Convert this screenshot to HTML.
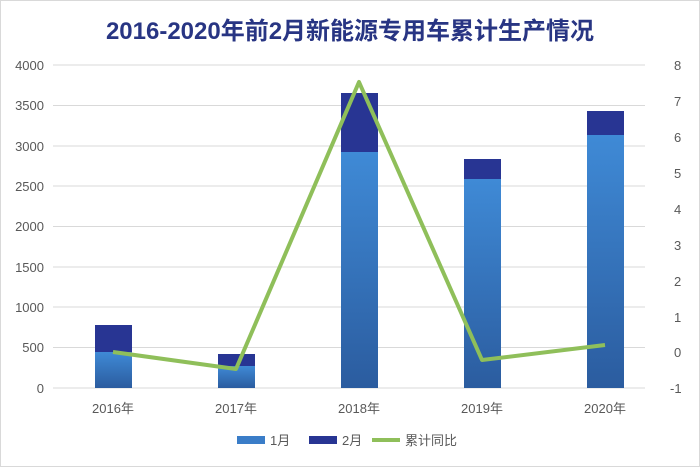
<!DOCTYPE html>
<html><head><meta charset="utf-8"><style>
body{margin:0;background:#fff}
svg{display:block;font-family:"Liberation Sans","Noto Sans CJK SC",sans-serif}
</style></head><body>
<svg width="700" height="467" viewBox="0 0 700 467">
<defs>
<linearGradient id="g1" x1="0" y1="0" x2="0" y2="1"><stop offset="0" stop-color="#3f8ad6"/><stop offset="1" stop-color="#2b5c9f"/></linearGradient>
</defs>
<rect x="0.5" y="0.5" width="699" height="466" fill="#fff" stroke="#d9d9d9"/>
<text x="350" y="39" text-anchor="middle" font-size="24" font-weight="bold" fill="#283583">2016-2020年前2月新能源专用车累计生产情况</text>
<g stroke="#d9d9d9" stroke-width="1">
<line x1="53" y1="65" x2="645" y2="65"/><line x1="53" y1="105.5" x2="645" y2="105.5"/>
<line x1="53" y1="146" x2="645" y2="146"/><line x1="53" y1="186" x2="645" y2="186"/>
<line x1="53" y1="226.5" x2="645" y2="226.5"/><line x1="53" y1="267" x2="645" y2="267"/>
<line x1="53" y1="307" x2="645" y2="307"/><line x1="53" y1="347.5" x2="645" y2="347.5"/>
<line x1="53" y1="388" x2="645" y2="388"/>
</g>
<g font-size="13" fill="#595959" text-anchor="end">
<text x="44" y="70">4000</text><text x="44" y="110">3500</text><text x="44" y="151">3000</text>
<text x="44" y="191">2500</text><text x="44" y="231">2000</text><text x="44" y="272">1500</text>
<text x="44" y="312">1000</text><text x="44" y="352">500</text><text x="44" y="393">0</text>
</g>
<g font-size="13" fill="#595959" text-anchor="start">
<text x="674" y="70">8</text><text x="674" y="106">7</text><text x="674" y="142">6</text>
<text x="674" y="178">5</text><text x="674" y="214">4</text><text x="674" y="250">3</text>
<text x="674" y="286">2</text><text x="674" y="322">1</text><text x="674" y="357">0</text>
<text x="670" y="393">-1</text>
</g>
<g>
<rect x="95" y="352" width="37" height="36" fill="url(#g1)"/><rect x="95" y="325" width="37" height="27" fill="#283593"/>
<rect x="218" y="366" width="37" height="22" fill="url(#g1)"/><rect x="218" y="354" width="37" height="12" fill="#283593"/>
<rect x="341" y="152" width="37" height="236" fill="url(#g1)"/><rect x="341" y="93" width="37" height="59" fill="#283593"/>
<rect x="464" y="179" width="37" height="209" fill="url(#g1)"/><rect x="464" y="159" width="37" height="20" fill="#283593"/>
<rect x="587" y="135" width="37" height="253" fill="url(#g1)"/><rect x="587" y="111" width="37" height="24" fill="#283593"/>
</g>
<polyline points="113,352 236,369 359,82 482,360 605,345" fill="none" stroke="#8fbf5a" stroke-width="4" stroke-linejoin="round"/>
<g font-size="13" fill="#595959" text-anchor="middle">
<text x="113" y="413">2016年</text><text x="236" y="413">2017年</text><text x="359" y="413">2018年</text>
<text x="482" y="413">2019年</text><text x="605" y="413">2020年</text>
</g>
<g font-size="13" fill="#595959">
<rect x="237" y="436" width="28" height="8" fill="#3a7dc8"/><text x="270" y="445">1月</text>
<rect x="309" y="436" width="28" height="8" fill="#283593"/><text x="342" y="445">2月</text>
<line x1="372" y1="440" x2="400" y2="440" stroke="#8fbf5a" stroke-width="4"/><text x="405" y="445">累计同比</text>
</g>
</svg>
</body></html>
